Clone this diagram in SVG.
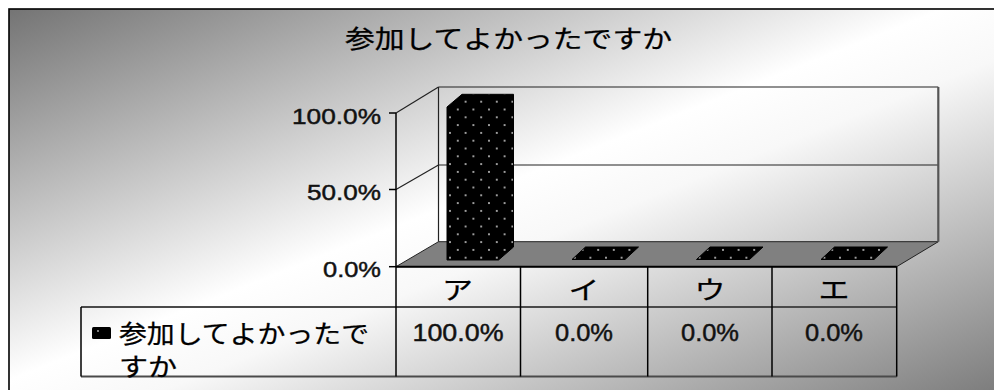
<svg xmlns="http://www.w3.org/2000/svg" width="994" height="390" viewBox="0 0 994 390">
  <defs>
    <linearGradient id="bg" x1="0" y1="0" x2="1" y2="1">
      <stop offset="0" stop-color="#747474"/>
      <stop offset="0.47" stop-color="#ffffff"/>
      <stop offset="0.56" stop-color="#f8f8f8"/>
      <stop offset="1" stop-color="#777777"/>
    </linearGradient>
    <pattern id="dots" patternUnits="userSpaceOnUse" x="446.1" y="113.4" width="15.6" height="15.6">
      <rect width="15.6" height="15.6" fill="#000"/>
      <circle cx="3.9" cy="3.9" r="1" fill="#d0d0d0"/>
      <circle cx="11.7" cy="11.7" r="1" fill="#d0d0d0"/>
    </pattern>
    <style>
      .jp { font-family: "Noto Sans CJK JP", "Noto Sans", sans-serif; fill: #000; stroke: #000; stroke-width: 0.25; }
      .num { font-family: "Liberation Sans", Arial, sans-serif; fill: #111; stroke: #111; stroke-width: 0.45; }
      .axis { stroke: #000; stroke-width: 1.5; fill: none; }
      .grid { stroke: #222; stroke-width: 1.2; fill: none; }
      .hline { stroke: #4a4a4a; stroke-width: 2; fill: none; }
      .vline { stroke: #000; stroke-width: 1.5; fill: none; }
      .bar { fill: url(#dots); stroke: #000; stroke-width: 1; }
    </style>
  </defs>

  <rect x="0" y="0" width="994" height="390" fill="#ffffff"/>
  <g id="frame">
    <rect x="9" y="9" width="995" height="395" fill="url(#bg)" stroke="#000" stroke-width="1.6"/>
  </g>

  <g id="title">
    <text class="jp" x="345" y="48" font-size="24.5" textLength="327" lengthAdjust="spacingAndGlyphs">参加してよかったですか</text>
  </g>

  <g id="plot-walls">
    <polygon points="396,266.7 438.5,241.7 938.3,241.7 896.7,266.7" fill="#808080" stroke="#222" stroke-width="1"/>
    <line class="grid" x1="438.5" y1="87" x2="938.3" y2="87"/>
    <line class="grid" x1="438.5" y1="165" x2="938.3" y2="165"/>
    <line x1="938.3" y1="87" x2="938.3" y2="241.7" stroke="#555" stroke-width="2.2"/>
    <line class="grid" x1="438.5" y1="87" x2="438.5" y2="241.7"/>
    <line class="grid" x1="396" y1="113" x2="438.5" y2="87"/>
    <line class="grid" x1="396" y1="189.5" x2="438.5" y2="165"/>
    <line class="axis" x1="396" y1="113" x2="396" y2="266.7"/>
    <line class="axis" x1="389" y1="113" x2="396" y2="113"/>
    <line class="axis" x1="389" y1="189.5" x2="396" y2="189.5"/>
    <line class="axis" x1="389" y1="266.7" x2="396" y2="266.7"/>
  </g>

  <g id="y-labels">
    <text class="num" x="381" y="123.5" font-size="22" text-anchor="end" textLength="89" lengthAdjust="spacingAndGlyphs">100.0%</text>
    <text class="num" x="381" y="199.5" font-size="22" text-anchor="end" textLength="74" lengthAdjust="spacingAndGlyphs">50.0%</text>
    <text class="num" x="381" y="277" font-size="22" text-anchor="end" textLength="58" lengthAdjust="spacingAndGlyphs">0.0%</text>
  </g>

  <g id="bars">
    <polygon id="bar-a" class="bar" points="447,107 462,94.3 513.5,94.3 513.5,247 498.5,260 447,260"/>
    <polygon id="bar-i" class="bar" points="572,259.5 625,259.5 638.5,247 585.5,247"/>
    <polygon id="bar-u" class="bar" points="696.5,259.5 749.5,259.5 763,247 710,247"/>
    <polygon id="bar-e" class="bar" points="821,259.5 874,259.5 887.5,247 834.5,247"/>
  </g>

  <g id="table">
    <line x1="396" y1="266.7" x2="896.7" y2="266.7" stroke="#000" stroke-width="2"/>
    <line class="hline" x1="81" y1="307" x2="896.7" y2="307"/>
    <line class="hline" x1="81" y1="376.5" x2="896.7" y2="376.5"/>
    <line class="vline" x1="81" y1="307" x2="81" y2="376.5"/>
    <line class="vline" x1="396" y1="266.7" x2="396" y2="376.5"/>
    <line class="vline" x1="520.5" y1="266.7" x2="520.5" y2="376.5"/>
    <line class="vline" x1="647.7" y1="266.7" x2="647.7" y2="376.5"/>
    <line class="vline" x1="772" y1="266.7" x2="772" y2="376.5"/>
    <line class="vline" x1="896.7" y1="266.7" x2="896.7" y2="376.5"/>
  </g>

  <g id="categories">
    <text class="jp" x="457.5" y="299" font-size="25" text-anchor="middle" textLength="31" lengthAdjust="spacingAndGlyphs">ア</text>
    <text class="jp" x="584" y="299" font-size="25" text-anchor="middle" textLength="31" lengthAdjust="spacingAndGlyphs">イ</text>
    <text class="jp" x="710" y="299" font-size="25" text-anchor="middle" textLength="31" lengthAdjust="spacingAndGlyphs">ウ</text>
    <text class="jp" x="834" y="299" font-size="25" text-anchor="middle" textLength="31" lengthAdjust="spacingAndGlyphs">エ</text>
  </g>

  <g id="legend">
    <rect x="92" y="327" width="19" height="12" rx="1.5" fill="#000"/>
    <circle cx="98" cy="331" r="0.9" fill="#bbb"/>
    <text class="jp" x="119" y="343" font-size="24.5" textLength="250" lengthAdjust="spacingAndGlyphs">参加してよかったで</text>
    <text class="jp" x="119" y="376" font-size="24.5" textLength="58" lengthAdjust="spacingAndGlyphs">すか</text>
  </g>

  <g id="values">
    <text class="num" x="458" y="340.5" font-size="23.5" text-anchor="middle" textLength="91" lengthAdjust="spacingAndGlyphs">100.0%</text>
    <text class="num" x="584" y="340.5" font-size="23.5" text-anchor="middle" textLength="58" lengthAdjust="spacingAndGlyphs">0.0%</text>
    <text class="num" x="710" y="340.5" font-size="23.5" text-anchor="middle" textLength="58" lengthAdjust="spacingAndGlyphs">0.0%</text>
    <text class="num" x="834" y="340.5" font-size="23.5" text-anchor="middle" textLength="58" lengthAdjust="spacingAndGlyphs">0.0%</text>
  </g>
</svg>
